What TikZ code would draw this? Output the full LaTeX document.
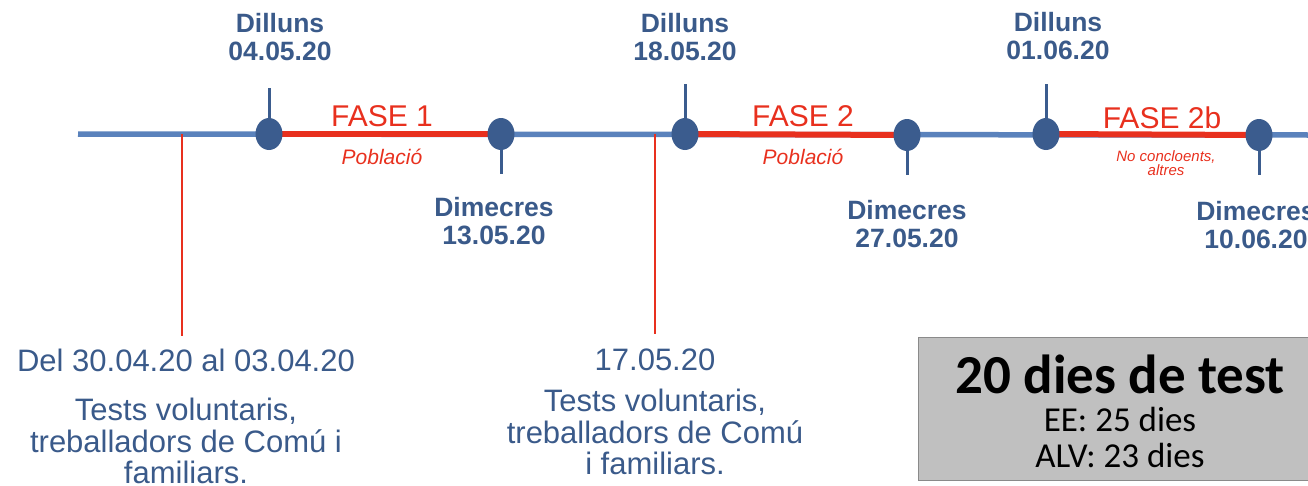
\documentclass[tikz,border=0pt]{standalone}
\usepackage{fontspec}
\setmainfont{Liberation Sans}
\newfontfamily\carlfont{Carlito}
\usetikzlibrary{shapes.geometric}
\definecolor{lineblue}{HTML}{5A82BC}
\definecolor{dotblue}{HTML}{3B5C8E}
\definecolor{txtblue}{HTML}{3A5A8A}
\definecolor{tlred}{HTML}{E8301E}
\definecolor{boxgray}{HTML}{C0C0C0}
\definecolor{boxedge}{HTML}{8A8A8A}
\tikzset{
  dotnode/.style={ellipse, fill=dotblue, draw=none, minimum width=27pt, minimum height=32pt, inner sep=0pt},
  tickline/.style={draw=dotblue, line width=3pt},
  mainline/.style={draw=lineblue, line width=5.5pt},
  phaseline/.style={draw=tlred, line width=6pt},
  redvert/.style={draw=tlred, line width=2pt},
  daylabel/.style={text=txtblue, font=\bfseries\fontsize{26.5}{27.5}\selectfont, align=center, inner sep=0pt},
  phaselabel/.style={text=tlred, font=\fontsize{30}{32}\selectfont, inner sep=0pt},
  poplabel/.style={text=tlred, font=\itshape\fontsize{21}{23}\selectfont, inner sep=0pt},
  smallpop/.style={text=tlred, font=\itshape\fontsize{15}{14}\selectfont, align=center, inner sep=0pt},
  botdate/.style={text=txtblue, font=\fontsize{31}{33}\selectfont, inner sep=0pt},
  bottext/.style={text=txtblue, font=\fontsize{31}{31.5}\selectfont, align=center, inner sep=0pt},
}
\begin{document}
\begin{tikzpicture}[x=1pt,y=-1pt]
\useasboundingbox (0,0) rectangle (1308,485);
% coordinates
\coordinate (L0) at (78,134);
\coordinate (L1) at (1312,135);
\coordinate (t1) at (269,88);
\coordinate (t2) at (501,174);
\coordinate (t3) at (685,84);
\coordinate (t4) at (907,175);
\coordinate (t5) at (1046,84);
\coordinate (t6) at (1259,175);
\coordinate (r1a) at (182,134);
\coordinate (r1b) at (182,336);
\coordinate (r2a) at (655,134);
\coordinate (r2b) at (655,334);
\path (269,134) coordinate (p1) (501,134) coordinate (p2) (685,134) coordinate (p3)
      (907,135) coordinate (p4) (1046,134) coordinate (p5) (1259,135) coordinate (p6);
% ticks
\draw[tickline] (p1) -- (t1);
\draw[tickline] (p2) -- (t2);
\draw[tickline] (p3) -- (t3);
\draw[tickline] (p4) -- (t4);
\draw[tickline] (p5) -- (t5);
\draw[tickline] (p6) -- (t6);
% main line
\draw[mainline] (L0) -- (L1);
% red verticals
\draw[redvert] (r1a) -- (r1b);
\draw[redvert] (r2a) -- (r2b);
% phase segments
\draw[phaseline] (p1) -- (p2);
\draw[phaseline] (p3) -- (p4);
\draw[phaseline] (p5) -- (p6);
% dots
\node[dotnode] (d1) at (p1) {};
\node[dotnode] (d2) at (p2) {};
\node[dotnode] (d3) at (p3) {};
\node[dotnode] (d4) at (p4) {};
\node[dotnode] (d5) at (p5) {};
\node[dotnode] (d6) at (p6) {};
% day labels
\node[daylabel] (l1) at (280,37) {Dilluns\\04.05.20};
\node[daylabel] (l3) at (685,37) {Dilluns\\18.05.20};
\node[daylabel] (l5) at (1058,36) {Dilluns\\01.06.20};
\node[daylabel] (l2) at (494,221) {Dimecres\\13.05.20};
\node[daylabel] (l4) at (907,224) {Dimecres\\27.05.20};
\node[daylabel] (l6) at (1256,225) {Dimecres\\10.06.20};
% phase labels
\node[phaselabel] (f1) at (382,116) {FASE 1};
\node[poplabel] (q1) at (382,157) {Població};
\node[phaselabel] (f2) at (803,116) {FASE 2};
\node[poplabel] (q2) at (803,157) {Població};
\node[phaselabel] (f3) at (1162,118) {FASE 2b};
\node[smallpop] (q3) at (1166,163) {No concloents,\\altres};
% bottom texts
\node[botdate] (b1) at (186,360) {Del 30.04.20 al 03.04.20};
\node[bottext] (b1t) at (186,441) {Tests voluntaris,\\treballadors de Comú i\\familiars.};
\node[botdate] (b2) at (655,360) {17.05.20};
\node[bottext] (b2t) at (655,432) {Tests voluntaris,\\treballadors de Comú\\i familiars.};
% box
\draw[fill=boxgray, draw=boxedge, line width=1pt] (918,337) rectangle (1314,480);
\node[inner sep=0pt, font=\carlfont\bfseries\fontsize{55}{57}\selectfont] (bx1) at (1120,374) {20 dies de test};
\node[inner sep=0pt, font=\carlfont\fontsize{35}{37}\selectfont] (bx2) at (1120,419) {EE: 25 dies};
\node[inner sep=0pt, font=\carlfont\fontsize{35}{37}\selectfont] (bx3) at (1120,455) {ALV: 23 dies};
\end{tikzpicture}
\end{document}
